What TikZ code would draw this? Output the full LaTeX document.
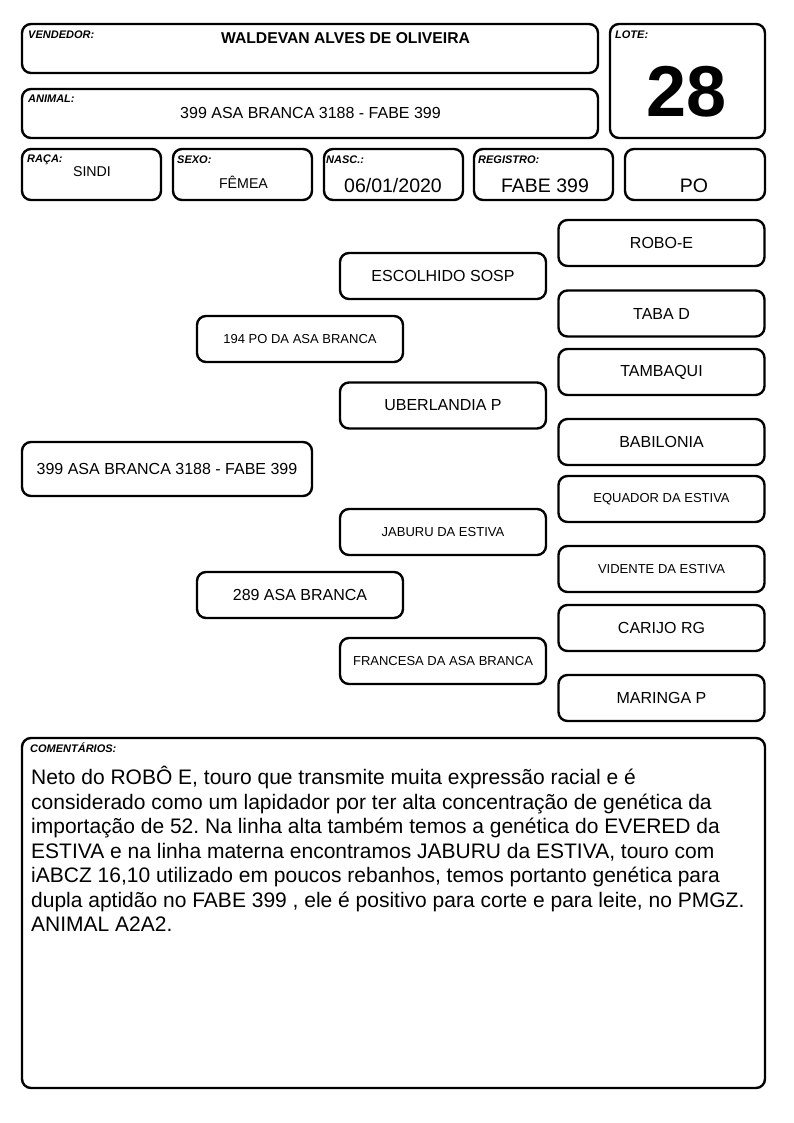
\documentclass[tikz,border=0pt]{standalone}
\usepackage{fontspec}
\setmainfont{Liberation Sans}
\begin{document}
\frenchspacing
\begin{tikzpicture}[x=1pt,y=-1pt,
  box/.style={draw, line width=2.4pt, rounded corners=9pt, inner sep=0pt, fill=white},
  ped/.style={box, minimum width=206pt, minimum height=46pt},
  lab/.style={anchor=base west, inner sep=0pt, font=\fontsize{11}{13}\selectfont\bfseries\itshape},
  val/.style={anchor=base, inner sep=0pt},
  f16/.style={font=\fontsize{16}{19}\selectfont},
  f13/.style={font=\fontsize{13}{15}\selectfont},
  f14/.style={font=\fontsize{14.2}{17}\selectfont},
  f19/.style={font=\fontsize{19.5}{23}\selectfont}]
\useasboundingbox (0,0) rectangle (794,1123);
\fill[white] (0,0) rectangle (794,1123);
% header boxes
\node[box, minimum width=576pt, minimum height=49pt] (vend) at (310,48.5) {};
\node[box, minimum width=576pt, minimum height=49pt] (anim) at (310,113.5) {};
\node[box, minimum width=155pt, minimum height=114pt] (lote) at (687.5,81) {};
\node[box, minimum width=139pt, minimum height=51pt] (raca) at (91.5,174.5) {};
\node[box, minimum width=139pt, minimum height=51pt] (sexo) at (242.5,174.5) {};
\node[box, minimum width=139pt, minimum height=51pt] (nasc) at (393.5,174.5) {};
\node[box, minimum width=139pt, minimum height=51pt] (reg) at (543.5,174.5) {};
\node[box, minimum width=140pt, minimum height=51pt] (po) at (695,174.5) {};
% labels
\node[lab] (lvend) at (28,39) {VENDEDOR:};
\node[lab] (lanim) at (28,103) {ANIMAL:};
\node[lab] (llote) at (615,39) {LOTE:};
\node[lab] (lraca) at (27,163) {RAÇA:};
\node[lab] (lsexo) at (177,164) {SEXO:};
\node[lab] (lnasc) at (326,164) {NASC.:};
\node[lab] (lreg) at (478,164) {REGISTRO:};
% values
\node[val, font=\fontsize{15.7}{18}\selectfont\bfseries] (tvend) at (345.5,44) {WALDEVAN ALVES DE OLIVEIRA};
\node[val, f16] (tanim) at (310.5,119) {399 ASA BRANCA 3188 - FABE 399};
\node[val, font=\fontsize{72}{80}\selectfont\bfseries] (tlote) at (686.5,117) {28};
\node[val, f14] (traca) at (92,177) {SINDI};
\node[val, f14] (tsexo) at (243.5,189) {FÊMEA};
\node[val, f19] (tnasc) at (393,193) {06/01/2020};
\node[val, f19] (treg) at (545,193) {FABE 399};
\node[val, f19] (tpo) at (694,193) {PO};
% pedigree
\node[box, minimum width=290pt, minimum height=54pt, f16] (p0) at (167,469) {399 ASA BRANCA 3188 - FABE 399};
\node[ped, f13] (s) at (300,339) {194 PO DA ASA BRANCA};
\node[ped, f16] (d) at (300,595) {289 ASA BRANCA};
\node[ped, f16] (ss) at (443,276) {ESCOLHIDO SOSP};
\node[ped, f16] (sd) at (443,405.5) {UBERLANDIA P};
\node[ped, f13] (ds) at (443,532) {JABURU DA ESTIVA};
\node[ped, f13] (dd) at (443,661) {FRANCESA DA ASA BRANCA};
\node[ped, f16] (sss) at (661.5,243) {ROBO-E};
\node[ped, f16] (ssd) at (661.5,313.5) {TABA D};
\node[ped, f16] (sds) at (661.5,372) {TAMBAQUI};
\node[ped, f16] (sdd) at (661.5,442) {BABILONIA};
\node[ped, f13] (dss) at (661.5,499) {EQUADOR DA ESTIVA};
\node[ped, f13] (dsd) at (661.5,569) {VIDENTE DA ESTIVA};
\node[ped, f16] (dds) at (661.5,628) {CARIJO RG};
\node[ped, f16] (ddd) at (661.5,698) {MARINGA P};
% comments
\node[box, minimum width=743pt, minimum height=350pt] (com) at (393.5,913) {};
\node[lab] (lcom) at (30,752) {COMENTÁRIOS:};
\node[anchor=north west, inner sep=0pt, align=left, font=\fontsize{21}{24.5}\selectfont] (tcom) at (31,766) {Neto do ROBÔ E, touro que transmite muita expressão racial e é\\
considerado como um lapidador por ter alta concentração de genética da\\
importação de 52. Na linha alta também temos a genética do EVERED da\\
ESTIVA e na linha materna encontramos JABURU da ESTIVA, touro com\\
iABCZ 16,10 utilizado em poucos rebanhos, temos portanto genética para\\
dupla aptidão no FABE 399 , ele é positivo para corte e para leite, no PMGZ.\\
ANIMAL A2A2.};
\end{tikzpicture}
\end{document}
